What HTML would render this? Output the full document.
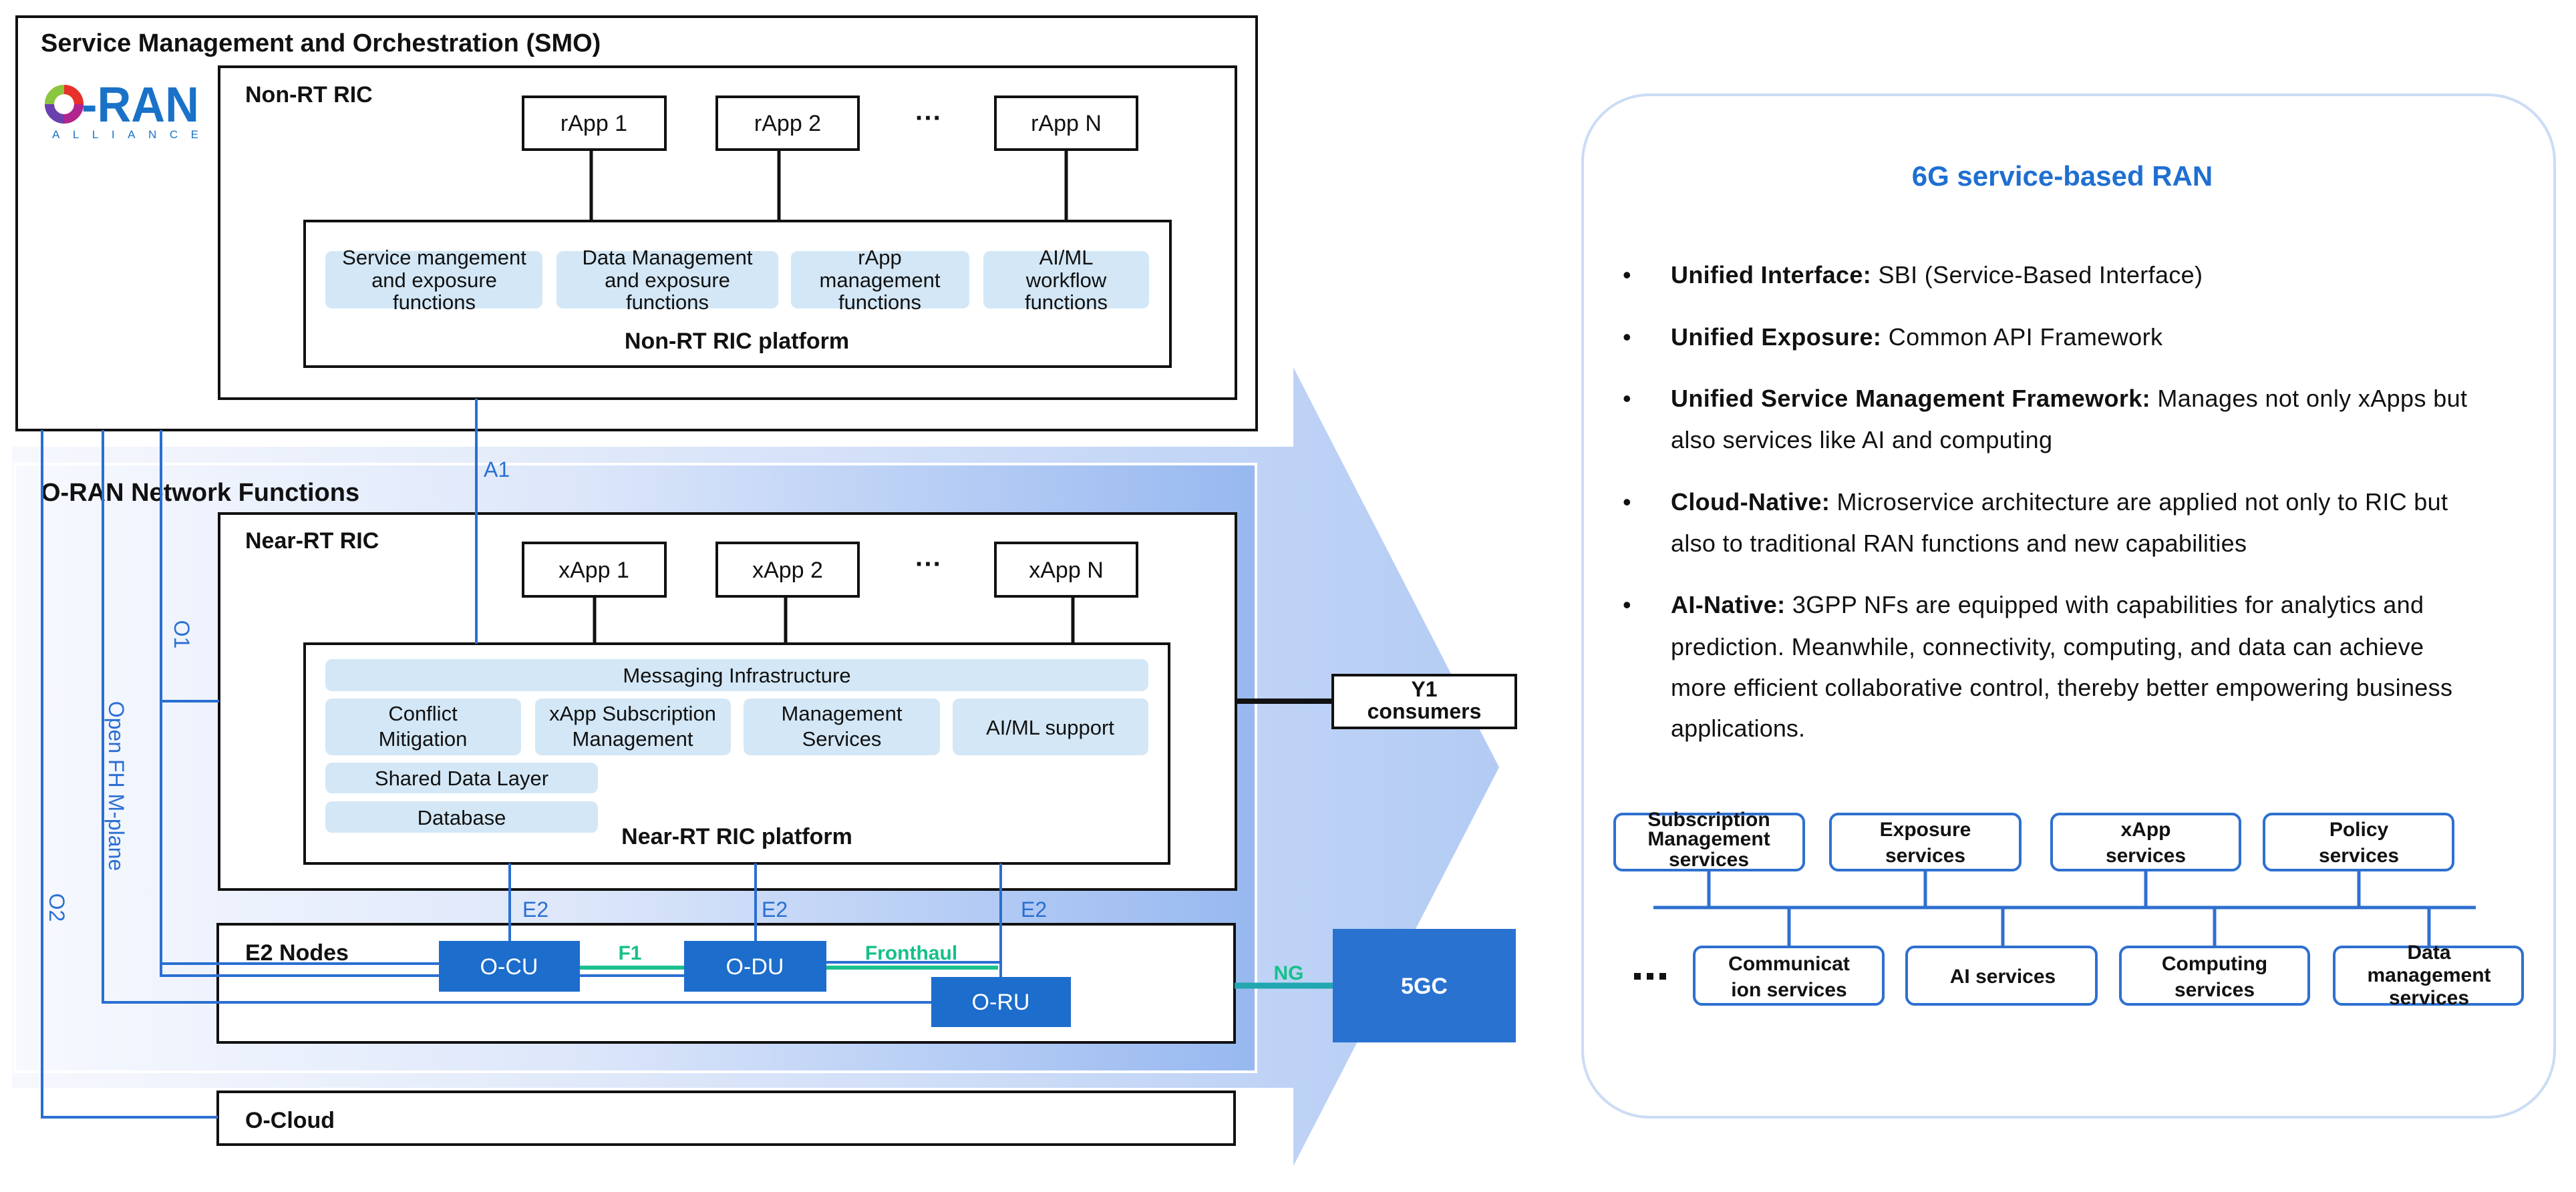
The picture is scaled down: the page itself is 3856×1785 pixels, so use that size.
<!DOCTYPE html>
<html><head><meta charset="utf-8"><style>
html,body{margin:0;padding:0;background:#fff;}
svg{display:block;}
text{font-family:"Liberation Sans",Arial,sans-serif;}
</style></head><body>
<svg width="3856" height="1785" viewBox="0 0 3856 1785" xmlns="http://www.w3.org/2000/svg">
<defs>
<linearGradient id="bodyG" x1="18" y1="0" x2="2244" y2="0" gradientUnits="userSpaceOnUse">
<stop offset="0" stop-color="#f6f8fd"/>
<stop offset="0.35" stop-color="#e3ebfa"/>
<stop offset="0.8" stop-color="#c2d5f6"/>
<stop offset="1" stop-color="#b3cbf4"/>
</linearGradient>
<linearGradient id="innerG" x1="22" y1="0" x2="1880" y2="0" gradientUnits="userSpaceOnUse">
<stop offset="0" stop-color="#f7f9fe"/>
<stop offset="0.45" stop-color="#dde7fa"/>
<stop offset="1" stop-color="#97b8f0"/>
</linearGradient>
<filter id="glow" x="-20%" y="-30%" width="140%" height="170%">
<feGaussianBlur in="SourceAlpha" stdDeviation="8"/>
<feOffset dy="10"/>
<feFlood flood-color="#3f7fe0" flood-opacity="0.55"/>
<feComposite operator="in" in2="SourceAlpha"/>
<feMerge><feMergeNode/><feMergeNode in="SourceGraphic"/></feMerge>
</filter>
<filter id="panelGlow" x="-5%" y="-5%" width="110%" height="110%">
<feGaussianBlur in="SourceAlpha" stdDeviation="10"/>
<feFlood flood-color="#9fbef0" flood-opacity="0.6"/>
<feComposite operator="in" in2="SourceAlpha" result="s"/>
<feMerge><feMergeNode in="s"/><feMergeNode in="SourceGraphic"/></feMerge>
</filter>
<filter id="nodeSh" x="-20%" y="-20%" width="140%" height="150%">
<feGaussianBlur in="SourceAlpha" stdDeviation="7"/>
<feOffset dy="8"/>
<feFlood flood-color="#5a86d6" flood-opacity="0.45"/>
<feComposite operator="in" in2="SourceAlpha"/>
<feMerge><feMergeNode/><feMergeNode in="SourceGraphic"/></feMerge>
</filter>
</defs>

<polygon points="18,669 1936,669 1936,550 2244,1149 1936,1746 1936,1629 18,1629" fill="url(#bodyG)"/>
<rect x="22" y="695" width="1858" height="910" fill="url(#innerG)" stroke="#ffffff" stroke-width="4"/>

<rect x="25" y="25" width="1856" height="619" fill="#fff" stroke="#111" stroke-width="4"/>
<text x="61" y="77" font-size="38" font-weight="bold" fill="#111">Service Management and Orchestration (SMO)</text>

<circle cx="96" cy="156" r="22" fill="none" stroke="#f5a623" stroke-width="14"/>
<path d="M96 134 A22 22 0 0 1 118 156" fill="none" stroke="#e8312a" stroke-width="14"/>
<path d="M118 156 A22 22 0 0 1 96 178" fill="none" stroke="#b2248f" stroke-width="14"/>
<path d="M96 178 A22 22 0 0 1 74 156" fill="none" stroke="#6a3fb0" stroke-width="14"/>
<path d="M74 156 A22 22 0 0 1 96 134" fill="none" stroke="#8cc63f" stroke-width="14"/>
<text x="122" y="182" font-size="74" font-weight="bold" fill="#1a72c8" textLength="176" lengthAdjust="spacingAndGlyphs">-RAN</text>
<text x="78" y="207" font-size="17" fill="#1a72c8" textLength="219" lengthAdjust="spacing">ALLIANCE</text>

<rect x="328" y="100" width="1522" height="497" fill="#fff" stroke="#111" stroke-width="4"/>
<text x="367" y="153" font-size="34" font-weight="bold" fill="#111">Non-RT RIC</text>
<g stroke="#111" stroke-width="5">
<line x1="885" y1="224" x2="885" y2="331"/>
<line x1="1166" y1="224" x2="1166" y2="331"/>
<line x1="1596" y1="224" x2="1596" y2="331"/>
</g>
<g fill="#fff" stroke="#111" stroke-width="4">
<rect x="783" y="145" width="213" height="79"/>
<rect x="1073" y="145" width="212" height="79"/>
<rect x="1490" y="145" width="212" height="79"/>
</g>
<g font-size="34" fill="#111" text-anchor="middle">
<text x="889" y="196">rApp 1</text>
<text x="1179" y="196">rApp 2</text>
<text x="1596" y="196">rApp N</text>
</g>
<text x="1390" y="190" font-size="40" font-weight="bold" text-anchor="middle" fill="#111">···</text>

<rect x="456" y="331" width="1296" height="218" fill="#fff" stroke="#111" stroke-width="4"/>
<g fill="#d3e7f6">
<rect x="487" y="376" width="325" height="86" rx="10"/>
<rect x="833" y="376" width="332" height="86" rx="10"/>
<rect x="1184" y="376" width="267" height="86" rx="10"/>
<rect x="1472" y="376" width="248" height="86" rx="10"/>
</g>
<g font-size="31" fill="#111" text-anchor="middle">
<text x="650" y="396">Service mangement</text><text x="650" y="430">and exposure</text><text x="650" y="463">functions</text>
<text x="999" y="396">Data Management</text><text x="999" y="430">and exposure</text><text x="999" y="463">functions</text>
<text x="1317" y="396">rApp</text><text x="1317" y="430">management</text><text x="1317" y="463">functions</text>
<text x="1596" y="396">AI/ML</text><text x="1596" y="430">workflow</text><text x="1596" y="463">functions</text>
</g>
<text x="1103" y="522" font-size="34" font-weight="bold" text-anchor="middle" fill="#111">Non-RT RIC platform</text>

<text x="61" y="750" font-size="38" font-weight="bold" fill="#111">O-RAN Network Functions</text>

<rect x="328" y="769" width="1522" height="563" fill="#fff" stroke="#111" stroke-width="4"/>
<text x="367" y="821" font-size="34" font-weight="bold" fill="#111">Near-RT RIC</text>
<g stroke="#111" stroke-width="5">
<line x1="890" y1="893" x2="890" y2="964"/>
<line x1="1176" y1="893" x2="1176" y2="964"/>
<line x1="1606" y1="893" x2="1606" y2="964"/>
</g>
<g fill="#fff" stroke="#111" stroke-width="4">
<rect x="783" y="813" width="213" height="80"/>
<rect x="1073" y="813" width="212" height="80"/>
<rect x="1490" y="813" width="212" height="80"/>
</g>
<g font-size="34" fill="#111" text-anchor="middle">
<text x="889" y="865">xApp 1</text>
<text x="1179" y="865">xApp 2</text>
<text x="1596" y="865">xApp N</text>
</g>
<text x="1390" y="858" font-size="40" font-weight="bold" text-anchor="middle" fill="#111">···</text>

<rect x="456" y="964" width="1294" height="329" fill="#fff" stroke="#111" stroke-width="4"/>
<g fill="#d3e7f6">
<rect x="487" y="987" width="1232" height="48" rx="10"/>
<rect x="487" y="1046" width="293" height="85" rx="10"/>
<rect x="801" y="1046" width="293" height="85" rx="10"/>
<rect x="1113" y="1046" width="294" height="85" rx="10"/>
<rect x="1426" y="1046" width="293" height="85" rx="10"/>
<rect x="487" y="1142" width="408" height="46" rx="10"/>
<rect x="487" y="1200" width="408" height="47" rx="10"/>
</g>
<g font-size="31" fill="#111" text-anchor="middle">
<text x="1103" y="1022">Messaging Infrastructure</text>
<text x="633" y="1079">Conflict</text><text x="633" y="1117">Mitigation</text>
<text x="947" y="1079">xApp Subscription</text><text x="947" y="1117">Management</text>
<text x="1260" y="1079">Management</text><text x="1260" y="1117">Services</text>
<text x="1572" y="1100">AI/ML support</text>
<text x="691" y="1176">Shared Data Layer</text>
<text x="691" y="1235">Database</text>
</g>
<text x="1103" y="1264" font-size="34" font-weight="bold" text-anchor="middle" fill="#111">Near-RT RIC platform</text>

<rect x="326" y="1384" width="1522" height="177" fill="#fff" stroke="#111" stroke-width="4"/>
<text x="367" y="1438" font-size="34" font-weight="bold" fill="#111">E2 Nodes</text>

<rect x="326" y="1635" width="1522" height="79" fill="#fff" stroke="#111" stroke-width="4"/>
<text x="367" y="1689" font-size="34" font-weight="bold" fill="#111">O-Cloud</text>

<line x1="1850" y1="1050" x2="1995" y2="1050" stroke="#111" stroke-width="8"/>
<rect x="1995" y="1011" width="274" height="79" fill="#fff" stroke="#111" stroke-width="4"/>
<text x="2132" y="1043" font-size="32" font-weight="bold" text-anchor="middle" fill="#111">Y1</text>
<text x="2132" y="1076" font-size="32" font-weight="bold" text-anchor="middle" fill="#111">consumers</text>

<g stroke="#2a6fd3" stroke-width="4" fill="none">
<polyline points="63,644 63,1673 326,1673"/>
<polyline points="154,644 154,1501 1394,1501"/>
<polyline points="241,644 241,1461 1024,1461"/>
<line x1="241" y1="1050" x2="328" y2="1050"/>
<line x1="241" y1="1443" x2="657" y2="1443"/>
<line x1="713" y1="597" x2="713" y2="964"/>
<line x1="763" y1="1293" x2="763" y2="1409"/>
<line x1="1131" y1="1293" x2="1131" y2="1409"/>
<polyline points="1237,1441 1498,1441"/>
<line x1="1498" y1="1293" x2="1498" y2="1463"/>
</g>
<g stroke="#1cc08e" stroke-width="6">
<line x1="868" y1="1449" x2="1024" y2="1449"/>
<line x1="1237" y1="1449" x2="1494" y2="1449"/>
</g>
<line x1="1848" y1="1476" x2="1995" y2="1476" stroke="#22a7b0" stroke-width="9"/>

<g filter="url(#nodeSh)" fill="#1f6dcc">
<rect x="657" y="1409" width="211" height="76"/>
<rect x="1024" y="1409" width="213" height="76"/>
<rect x="1394" y="1463" width="209" height="75"/>
<rect x="1995" y="1391" width="274" height="170" fill="#2a72d0"/>
</g>
<g font-size="34" fill="#fff" text-anchor="middle">
<text x="762" y="1459">O-CU</text>
<text x="1130" y="1459">O-DU</text>
<text x="1498" y="1512">O-RU</text>
<text x="2132" y="1488" font-weight="bold">5GC</text>
</g>

<g font-size="32" fill="#2a6fd3">
<text x="724" y="714">A1</text>
<text x="782" y="1373">E2</text>
<text x="1140" y="1373">E2</text>
<text x="1528" y="1373">E2</text>
<text x="272" y="950" text-anchor="middle" dominant-baseline="central" transform="rotate(90 272 950)">O1</text>
<text x="174" y="1177" text-anchor="middle" dominant-baseline="central" transform="rotate(90 174 1177)">Open FH M-plane</text>
<text x="85" y="1359" text-anchor="middle" dominant-baseline="central" transform="rotate(90 85 1359)">O2</text>
</g>
<g font-size="30" font-weight="bold" fill="#16c08a" text-anchor="middle">
<text x="943" y="1437">F1</text>
<text x="1364" y="1437">Fronthaul</text>
<text x="1929" y="1467">NG</text>
</g>

<rect x="2369" y="142" width="1455" height="1531" rx="100" fill="#fff" stroke="#cbdcf5" stroke-width="4" filter="url(#panelGlow)"/>
<text x="3087" y="278" font-size="42" font-weight="bold" text-anchor="middle" fill="#1f6fd1">6G service-based RAN</text>
<g font-size="36" fill="#111">
<text x="2429" y="424">•</text>
<text x="2429" y="517">•</text>
<text x="2429" y="609">•</text>
<text x="2429" y="764">•</text>
<text x="2429" y="918">•</text>
<text x="2501" y="424" textLength="796" lengthAdjust="spacing"><tspan font-weight="bold">Unified Interface:</tspan> SBI (Service-Based Interface)</text>
<text x="2501" y="517" textLength="736" lengthAdjust="spacing"><tspan font-weight="bold">Unified Exposure:</tspan> Common API Framework</text>
<text x="2501" y="609" textLength="1192" lengthAdjust="spacing"><tspan font-weight="bold">Unified Service Management Framework:</tspan> Manages not only xApps but</text>
<text x="2501" y="671" textLength="571" lengthAdjust="spacing">also services like AI and computing</text>
<text x="2501" y="764" textLength="1163" lengthAdjust="spacing"><tspan font-weight="bold">Cloud-Native:</tspan> Microservice architecture are applied not only to RIC but</text>
<text x="2501" y="826" textLength="862" lengthAdjust="spacing">also to traditional RAN functions and new capabilities</text>
<text x="2501" y="918" textLength="1127" lengthAdjust="spacing"><tspan font-weight="bold">AI-Native:</tspan> 3GPP NFs are equipped with capabilities for analytics and</text>
<text x="2501" y="981" textLength="1127" lengthAdjust="spacing">prediction. Meanwhile, connectivity, computing, and data can achieve</text>
<text x="2501" y="1042" textLength="1170" lengthAdjust="spacing">more efficient collaborative control, thereby better empowering business</text>
<text x="2501" y="1103" textLength="201" lengthAdjust="spacing">applications.</text>
</g>

<g stroke="#2f6fd0" stroke-width="5">
<line x1="2475" y1="1359" x2="3706" y2="1359"/>
<line x1="2558" y1="1303" x2="2558" y2="1359"/>
<line x1="2882" y1="1303" x2="2882" y2="1359"/>
<line x1="3212" y1="1303" x2="3212" y2="1359"/>
<line x1="3531" y1="1303" x2="3531" y2="1359"/>
<line x1="2678" y1="1359" x2="2678" y2="1418"/>
<line x1="2998" y1="1359" x2="2998" y2="1418"/>
<line x1="3315" y1="1359" x2="3315" y2="1418"/>
<line x1="3636" y1="1359" x2="3636" y2="1418"/>
</g>
<g fill="#fff" stroke="#2f6fd0" stroke-width="4" filter="url(#glow)">
<rect x="2417" y="1219" width="283" height="84" rx="12"/>
<rect x="2740" y="1219" width="284" height="84" rx="12"/>
<rect x="3071" y="1219" width="282" height="84" rx="12"/>
<rect x="3389" y="1219" width="283" height="84" rx="12"/>
<rect x="2536" y="1418" width="283" height="86" rx="12"/>
<rect x="2854" y="1418" width="284" height="86" rx="12"/>
<rect x="3174" y="1418" width="282" height="86" rx="12"/>
<rect x="3494" y="1418" width="282" height="86" rx="12"/>
</g>
<g font-size="30" font-weight="bold" fill="#111" text-anchor="middle">
<text x="2558" y="1237">Subscription</text><text x="2558" y="1266">Management</text><text x="2558" y="1297">services</text>
<text x="2882" y="1252">Exposure</text><text x="2882" y="1291">services</text>
<text x="3212" y="1252">xApp</text><text x="3212" y="1291">services</text>
<text x="3531" y="1252">Policy</text><text x="3531" y="1291">services</text>
<text x="2678" y="1453">Communicat</text><text x="2678" y="1492">ion services</text>
<text x="2998" y="1472">AI services</text>
<text x="3315" y="1453">Computing</text><text x="3315" y="1492">services</text>
<text x="3636" y="1436">Data</text><text x="3636" y="1470">management</text><text x="3636" y="1504">services</text>
</g>
<g fill="#111">
<rect x="2446" y="1457" width="10" height="10"/>
<rect x="2465" y="1457" width="10" height="10"/>
<rect x="2484" y="1457" width="10" height="10"/>
</g>
</svg>
</body></html>
